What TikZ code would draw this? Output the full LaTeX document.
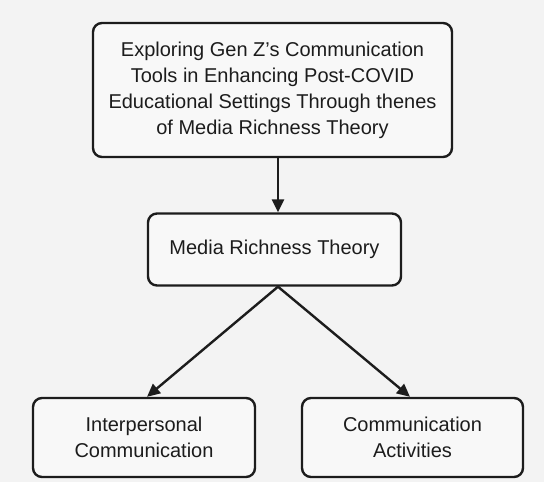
\documentclass[tikz,border=0pt]{standalone}
\usepackage{fontspec}
\setmainfont{Liberation Sans}
\usetikzlibrary{arrows.meta}
\definecolor{bg}{HTML}{F3F3F3}
\definecolor{boxfill}{HTML}{F8F8F8}
\definecolor{ink}{HTML}{1C1C1C}
\tikzset{
  box/.style={draw=ink, fill=boxfill, line width=2.4pt, rounded corners=9pt,
    align=center, text=ink, font=\fontsize{20}{26}\selectfont, inner sep=0pt},
  arr/.style={draw=ink, line width=2.4pt, -{Triangle[length=13pt,width=12pt]}}
}
\begin{document}
\begin{tikzpicture}[x=1pt,y=-1pt]
\fill[bg] (0,0) rectangle (544,482);
\useasboundingbox (0,0) rectangle (544,482);
\node[box, minimum width=359pt, minimum height=134pt] (top) at (272.5,90)
  {Exploring Gen Z’s Communication\\Tools in Enhancing Post-COVID\\Educational Settings Through thenes\\of Media Richness Theory};
\node[box, minimum width=253pt, minimum height=72pt] (mid) at (274.5,249.5)
  {Media Richness Theory};
\node[box, minimum width=222pt, minimum height=79pt] (left) at (144,437.5)
  {Interpersonal\\Communication};
\node[box, minimum width=221pt, minimum height=79pt] (right) at (412.5,437.5)
  {Communication\\Activities};
\draw[arr] ([xshift=5.5pt]top.south) -- ([xshift=3.5pt]mid.north);
\draw[arr] ([xshift=3.5pt]mid.south) -- ([xshift=3pt]left.north);
\draw[arr] ([xshift=3.5pt]mid.south) -- ([xshift=-2.5pt]right.north);
\end{tikzpicture}
\end{document}
